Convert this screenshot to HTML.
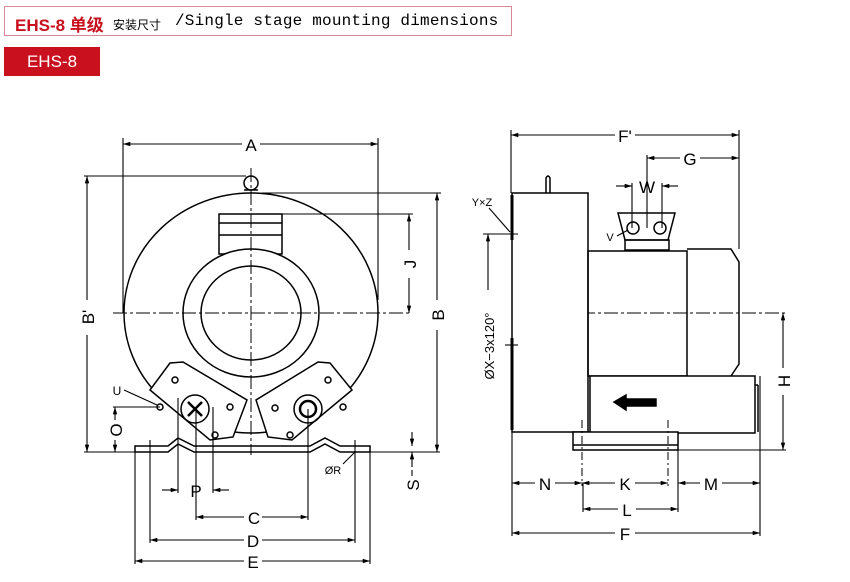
<!DOCTYPE html>
<html><head><meta charset="utf-8"><style>
body{margin:0;background:#fff;width:850px;height:582px;overflow:hidden;position:relative;font-family:"Liberation Sans",sans-serif}
.hdr{position:absolute;left:4px;top:6px;width:508px;height:30px;border:1px solid #d98a94;box-sizing:border-box;white-space:nowrap}
.hdr span{white-space:nowrap}
.t1{position:absolute;left:10px;top:4px;font:bold 17px "Liberation Sans","Noto Sans CJK SC",sans-serif;color:#c8101e;letter-spacing:0px}
.t2{position:absolute;left:108px;top:9px;font:12px "Noto Sans CJK SC",sans-serif;color:#000}
.t3{position:absolute;left:170px;top:5px;font:16px "Liberation Mono",monospace;color:#000;letter-spacing:0.2px}
.btn{position:absolute;left:4px;top:47px;width:96px;height:29px;background:#c8101e;color:#fff;font:17px "Liberation Sans",sans-serif;text-align:center;line-height:29px}
svg{position:absolute;left:0;top:0}
</style></head><body>
<div class="hdr"><span class="t1">EHS-8 单级</span><span class="t2">安装尺寸</span><span class="t3">/Single stage mounting dimensions</span></div>
<div class="btn">EHS-8</div>
<svg width="850" height="582" viewBox="0 0 850 582" fill="none" stroke="#000" stroke-width="1.5" font-family="Liberation Sans, sans-serif">
<defs><marker id="a" viewBox="0 0 10 6" refX="10" refY="3" markerWidth="8" markerHeight="4" orient="auto-start-reverse"><path d="M0 0L10 3L0 6z" fill="#000" stroke="none"/></marker></defs>
<!-- LEFT VIEW -->
<ellipse cx="251" cy="313" rx="127" ry="120"/>
<rect x="219" y="214" width="63" height="40" fill="#fff"/>
<line x1="219" y1="223" x2="282" y2="223"/><line x1="219" y1="235" x2="282" y2="235"/>
<ellipse cx="251" cy="313" rx="68" ry="64" fill="#fff"/>
<ellipse cx="251" cy="313" rx="50" ry="47"/>
<circle cx="251" cy="183" r="7" fill="#fff"/><line x1="244" y1="190" x2="258" y2="190"/>
<!-- feet -->
<path d="M150 390 L170 363 L183 362 L247 400 L233 437 L210 440 Z" fill="#fff"/>
<path d="M352 390 L330 363 L318 362 L256 400 L268 437 L292 440 Z" fill="#fff"/>
<circle cx="195" cy="409" r="14" fill="#fff"/>
<path d="M188 402L202 416M202 402L188 416" stroke-width="2.5"/>
<circle cx="175" cy="380" r="3"/><circle cx="160" cy="407" r="3"/><circle cx="230" cy="407" r="3"/><circle cx="215" cy="435" r="3"/>
<circle cx="308" cy="409" r="14"/><circle cx="308" cy="409" r="8" stroke-width="2.5"/>
<circle cx="275" cy="408" r="3"/><circle cx="328" cy="380" r="3"/><circle cx="343" cy="407" r="3"/><circle cx="290" cy="435" r="3"/>
<!-- base plate -->
<path d="M135 452 L135 446 L168 446 L178 438 L194 446 L310 446 L325 438 L340 446 L370 446 L370 452 L340 452 L325 444 L310 452 L194 452 L178 444 L168 452 Z" fill="#fff"/>
<!-- centerlines -->
<g stroke-width="1" stroke-dasharray="14,3,3,3">
<line x1="113" y1="313" x2="412" y2="313"/><line x1="251" y1="168" x2="251" y2="455"/>
<line x1="512" y1="313" x2="785" y2="313"/>
</g>
<g stroke-width="1.1">
<line x1="123" y1="138" x2="123" y2="313"/><line x1="378" y1="138" x2="378" y2="300"/>
<line x1="123" y1="144" x2="242" y2="144" marker-start="url(#a)"/><line x1="260" y1="144" x2="378" y2="144" marker-end="url(#a)"/>
<line x1="84" y1="176" x2="246" y2="176"/>
<line x1="87" y1="176" x2="87" y2="300" marker-start="url(#a)"/><line x1="87" y1="335" x2="87" y2="452" marker-end="url(#a)"/>
<line x1="84" y1="452" x2="135" y2="452"/>
<line x1="262" y1="193" x2="441" y2="193"/>
<line x1="437" y1="193" x2="437" y2="300" marker-start="url(#a)"/><line x1="437" y1="330" x2="437" y2="452" marker-end="url(#a)"/>
<line x1="370" y1="452" x2="440" y2="452"/>
<line x1="282" y1="214" x2="413" y2="214"/>
<line x1="409" y1="214" x2="409" y2="250" marker-start="url(#a)"/><line x1="409" y1="278" x2="409" y2="313" marker-end="url(#a)"/>
<line x1="113" y1="407" x2="160" y2="407"/>
<line x1="115" y1="407" x2="115" y2="420" marker-start="url(#a)"/><line x1="115" y1="440" x2="115" y2="452" marker-end="url(#a)"/>
<line x1="124" y1="390" x2="157" y2="405"/>
<line x1="412" y1="432" x2="412" y2="446" marker-end="url(#a)"/><line x1="412" y1="452" x2="412" y2="467" marker-start="url(#a)"/>
<line x1="412" y1="470" x2="412" y2="476"/>
<line x1="178" y1="398" x2="178" y2="493"/><line x1="213" y1="407" x2="213" y2="493"/><line x1="196" y1="409" x2="196" y2="472"/>
<line x1="162" y1="490" x2="178" y2="490" marker-end="url(#a)"/><line x1="229" y1="490" x2="213" y2="490" marker-end="url(#a)"/>
<line x1="196" y1="472" x2="196" y2="520"/><line x1="308" y1="409" x2="308" y2="520"/>
<line x1="196" y1="517" x2="244" y2="517" marker-start="url(#a)"/><line x1="262" y1="517" x2="308" y2="517" marker-end="url(#a)"/>
<line x1="150" y1="440" x2="150" y2="543"/><line x1="355" y1="440" x2="355" y2="543"/>
<line x1="150" y1="540" x2="244" y2="540" marker-start="url(#a)"/><line x1="262" y1="540" x2="355" y2="540" marker-end="url(#a)"/>
<line x1="135" y1="452" x2="135" y2="564"/><line x1="370" y1="452" x2="370" y2="564"/>
<line x1="135" y1="561" x2="244" y2="561" marker-start="url(#a)"/><line x1="262" y1="561" x2="370" y2="561" marker-end="url(#a)"/>
<line x1="343" y1="464" x2="355" y2="452"/>
</g>
<g fill="#000" stroke="none" font-size="17" text-anchor="middle">
<text x="251" y="151">A</text>
<text x="254" y="524">C</text><text x="253" y="547">D</text><text x="253" y="568">E</text>
<text x="196" y="497">P</text>
<text transform="translate(94,317) rotate(-90)">B'</text>
<text transform="translate(444,315) rotate(-90)">B</text>
<text transform="translate(416,264) rotate(-90)">J</text>
<text transform="translate(122,430) rotate(-90)">O</text>
<text transform="translate(419,485) rotate(-90)">S</text>
<text x="117" y="395" font-size="12">U</text>
<text x="333" y="474" font-size="11">ØR</text>
</g>
<!-- RIGHT VIEW -->
<rect x="512" y="193" width="76" height="239" fill="#fff"/>
<line x1="512" y1="195" x2="512" y2="240" stroke-width="3"/><line x1="512" y1="338" x2="512" y2="430" stroke-width="3"/>
<path d="M546 193 L546 178 Q548 174 550 178 L550 193"/>
<rect x="588" y="251" width="99" height="125"/>
<path d="M687 249 L731 249 L739 262 L739 364 L731 376"/>
<path d="M618 213 L675 213 L668 240 L625 240 Z"/><rect x="625" y="240" width="44" height="10"/>
<circle cx="633" cy="228" r="6"/><circle cx="660" cy="228" r="6"/>
<line x1="647" y1="193" x2="647" y2="228" stroke-width="1.1"/>
<rect x="590" y="376" width="165" height="57" fill="#fff"/>
<line x1="755" y1="385" x2="758" y2="385"/><line x1="758" y1="385" x2="758" y2="432"/>
<path d="M614 402 L626 395 L626 399 L656 399 L656 406 L626 406 L626 410 Z" fill="#000"/>
<rect x="573" y="432" width="105" height="18" fill="#fff"/><line x1="573" y1="445" x2="678" y2="445"/>
<line x1="678" y1="450" x2="786" y2="450" stroke-width="1.1"/>
<g stroke-width="1" stroke-dasharray="8,3,2,3"><line x1="582" y1="420" x2="582" y2="486"/><line x1="668" y1="420" x2="668" y2="486"/></g>
<g stroke-width="1.1">
<line x1="511" y1="130" x2="511" y2="193"/><line x1="739" y1="130" x2="739" y2="249"/>
<line x1="511" y1="135" x2="615" y2="135" marker-start="url(#a)"/><line x1="635" y1="135" x2="739" y2="135" marker-end="url(#a)"/>
<line x1="647" y1="155" x2="647" y2="193"/>
<line x1="647" y1="158" x2="680" y2="158" marker-start="url(#a)"/><line x1="700" y1="158" x2="739" y2="158" marker-end="url(#a)"/>
<line x1="632" y1="183" x2="632" y2="228"/><line x1="662" y1="183" x2="662" y2="228"/>
<line x1="616" y1="186" x2="632" y2="186" marker-end="url(#a)"/><line x1="678" y1="186" x2="662" y2="186" marker-end="url(#a)"/>
<line x1="617" y1="236" x2="628" y2="230"/>
<line x1="489" y1="208" x2="510" y2="232"/>
<line x1="483" y1="234" x2="518" y2="234"/><line x1="505" y1="345" x2="518" y2="345"/>
<line x1="488" y1="290" x2="488" y2="234" marker-end="url(#a)"/>
<line x1="783" y1="313" x2="783" y2="368" marker-start="url(#a)"/><line x1="783" y1="395" x2="783" y2="450" marker-end="url(#a)"/>
<line x1="512" y1="432" x2="512" y2="536"/><line x1="760" y1="376" x2="760" y2="536"/>
<line x1="678" y1="450" x2="678" y2="512"/>
<line x1="512" y1="483" x2="535" y2="483" marker-start="url(#a)"/><line x1="555" y1="483" x2="582" y2="483" marker-end="url(#a)"/>
<line x1="582" y1="483" x2="615" y2="483" marker-start="url(#a)"/><line x1="635" y1="483" x2="668" y2="483" marker-end="url(#a)"/>
<line x1="678" y1="483" x2="700" y2="483" marker-start="url(#a)"/><line x1="722" y1="483" x2="760" y2="483" marker-end="url(#a)"/>
<line x1="583" y1="483" x2="583" y2="512"/>
<line x1="583" y1="509" x2="618" y2="509" marker-start="url(#a)"/><line x1="636" y1="509" x2="678" y2="509" marker-end="url(#a)"/>
<line x1="512" y1="533" x2="615" y2="533" marker-start="url(#a)"/><line x1="635" y1="533" x2="760" y2="533" marker-end="url(#a)"/>
</g>
<g fill="#000" stroke="none" font-size="17" text-anchor="middle">
<text x="625" y="142">F'</text><text x="690" y="165">G</text><text x="647" y="193">W</text>
<text x="545" y="490">N</text><text x="625" y="490">K</text><text x="711" y="490">M</text>
<text x="627" y="516">L</text><text x="625" y="540">F</text>
<text transform="translate(790,381) rotate(-90)">H</text>
<text transform="translate(494,346) rotate(-90)" font-size="13">ØX−3x120°</text>
<text x="482" y="206" font-size="11">Y×Z</text>
<text x="610" y="241" font-size="11">V</text>
</g>
</svg>
</body></html>
